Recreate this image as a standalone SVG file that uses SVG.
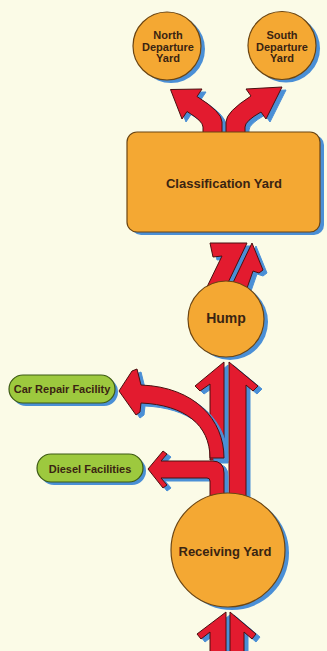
<svg xmlns="http://www.w3.org/2000/svg" xmlns:xlink="http://www.w3.org/1999/xlink" width="327" height="651" viewBox="0 0 327 651">
<style>
.bg{fill:#fbfbe7}
.sh{fill:#4a8fd6;stroke:#4a8fd6;stroke-width:1}
.ar{fill:#e31b2f;stroke:#4a1010;stroke-width:1;stroke-linejoin:round}
.yard{fill:#f4a833;stroke:#6b4512;stroke-width:1.2}
.fac{fill:#9dc93e;stroke:#3d5a14;stroke-width:1.2}
.nsh{fill:#4a8fd6}
.t{font-family:"Liberation Sans",Arial,sans-serif;font-weight:bold;fill:#3a2412;text-anchor:middle}
</style>
<defs>
<path id="depL" d="M203 136 L203 127 Q203 121 187 111.5 L182 119 L170.5 89.5 L202 89 L197 96.5 Q222 112 222 122 L222 136 Z"/>
<path id="depR" d="M245 136 L245 127 Q245 121 261 112 L266 119 L282 87 L246 89 L251 96 Q226 112 226 122 L226 136 Z"/>
<path id="humpL" d="M210 243 L247 243 L224 291 L205 291 L222 256 L213 257 Z"/>
<path id="humpR" d="M252 243 L263 270 L259 273 L253 271 L246 291 L229 291 Z"/>
<path id="recvL" d="M224 362 L195 386 L200 391 L210 384 L210 460 L224 460 Z"/>
<path id="recvR" d="M229 362 L258 386 L253 391 L246 385 L246 496 L229 496 Z"/>
<path id="repair" d="M224 458 C224 420 195 387 141 385 L137 369 L132 371 L119 391 L136 415 L140 412 L141 403 C185 405 210 425 210 458 Z"/>
<path id="diesel" d="M148 469 L163 451 L167 454 L161 461 L212 461 Q224 461 224 473 L224 496 L210 496 L210 481 Q210 478 207 478 L161 478 L167 485 L163 488 Z"/>
<path id="inL" d="M226 612 L197 634 L201 639 L210 632 L210 652 L226 652 Z"/>
<path id="inR" d="M230 612 L256 634 L252 639 L244 632 L244 652 L230 652 Z"/>
</defs>
<rect class="bg" x="0" y="0" width="327" height="651"/>
<g id="connectors">
<use xlink:href="#depL" class="sh" transform="translate(4,3)"/>
<use xlink:href="#depL" class="ar"/>
<use xlink:href="#depR" class="sh" transform="translate(4,3)"/>
<use xlink:href="#depR" class="ar"/>
<use xlink:href="#humpL" class="sh" transform="translate(4,3)"/>
<use xlink:href="#humpL" class="ar"/>
<use xlink:href="#humpR" class="sh" transform="translate(4,3)"/>
<use xlink:href="#humpR" class="ar"/>
<use xlink:href="#recvL" class="sh" transform="translate(4,3)"/>
<use xlink:href="#recvL" class="ar"/>
<use xlink:href="#recvR" class="sh" transform="translate(4,3)"/>
<use xlink:href="#recvR" class="ar"/>
<use xlink:href="#repair" class="sh" transform="translate(4,3)"/>
<use xlink:href="#repair" class="ar"/>
<use xlink:href="#diesel" class="sh" transform="translate(4,3)"/>
<use xlink:href="#diesel" class="ar"/>
<use xlink:href="#inL" class="sh" transform="translate(4,3)"/>
<use xlink:href="#inL" class="ar"/>
<use xlink:href="#inR" class="sh" transform="translate(4,3)"/>
<use xlink:href="#inR" class="ar"/>
</g>
<g id="north-departure-yard">
<circle class="nsh" cx="171" cy="49" r="34"/>
<circle class="yard" cx="167" cy="46" r="34"/>
<text class="t" font-size="11"><tspan x="168" y="39">North</tspan><tspan x="168" y="50.5">Departure</tspan><tspan x="168" y="62">Yard</tspan></text>
</g>
<g id="south-departure-yard">
<circle class="nsh" cx="286" cy="48.5" r="34"/>
<circle class="yard" cx="282" cy="45.5" r="34"/>
<text class="t" font-size="11"><tspan x="282" y="39">South</tspan><tspan x="282" y="50.5">Departure</tspan><tspan x="282" y="62">Yard</tspan></text>
</g>
<g id="classification-yard">
<rect class="nsh" x="131" y="135" width="193" height="100" rx="10"/>
<rect class="yard" x="127" y="132" width="193" height="100" rx="10"/>
<text class="t" font-size="13" x="224" y="188">Classification Yard</text>
</g>
<g id="hump">
<circle class="nsh" cx="230" cy="322" r="38"/>
<circle class="yard" cx="226" cy="319" r="38"/>
<text class="t" font-size="14" x="226" y="323">Hump</text>
</g>
<g id="car-repair-facility">
<rect class="nsh" x="12" y="378" width="106" height="28" rx="14"/>
<rect class="fac" x="9" y="375" width="106" height="28" rx="14"/>
<text class="t" font-size="11" x="62" y="393">Car Repair Facility</text>
</g>
<g id="diesel-facilities">
<rect class="nsh" x="40" y="457" width="106" height="28" rx="14"/>
<rect class="fac" x="37" y="454" width="106" height="28" rx="14"/>
<text class="t" font-size="11" x="90" y="472.5">Diesel Facilities</text>
</g>
<g id="receiving-yard">
<circle class="nsh" cx="232" cy="553" r="57"/>
<circle class="yard" cx="228" cy="550" r="57"/>
<text class="t" font-size="13" x="225" y="556">Receiving Yard</text>
</g>
</svg>
